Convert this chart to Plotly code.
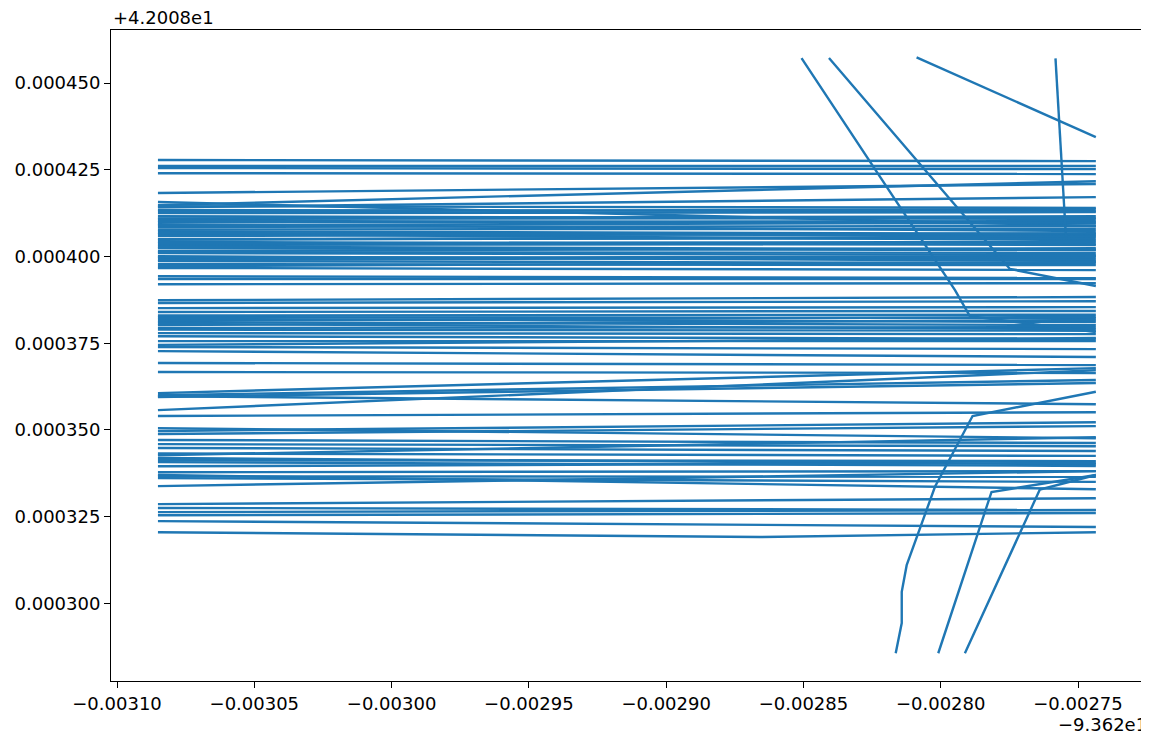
import plotly.graph_objects as go

# Offsets (axis offset notation) and unit (values stored in micro-degrees)
X_OFFSET = -93.62
Y_OFFSET = 42.008
UNIT = 1e-6

# Horizontal-ish segments: common left/right x, per-line left/right y (micro units)
X_LEFT = -3085.1
X_RIGHT = -2743.5
left_y = [427.8, 426.1, 425.5, 424.0, 418.3, 414.8, 415.7, 414.2, 413.4, 412.5,
          411.6, 410.8, 409.9, 409.3, 408.5, 407.3, 406.5, 405.9, 405.0, 404.2,
          403.3, 402.4, 401.6, 401.0, 400.1, 399.5, 398.7, 397.8, 396.7, 394.3,
          393.5, 392.0,
          414.5, 413.0, 411.0, 410.3, 409.0, 407.8, 406.8, 404.8, 403.8, 402.8,
          401.3, 399.8, 399.0, 397.2,
          387.4, 386.6, 385.1, 384.0, 382.5, 382.0, 381.1, 380.2, 379.4, 377.9,
          377.0, 375.6, 374.5, 373.9, 372.7, 369.3, 366.7, 360.6, 355.7, 360.0,
          359.5, 359.7, 383.0, 381.5, 380.6, 378.9,
          354.0, 350.5, 349.7, 348.8, 347.1, 345.9, 344.8, 342.7, 341.9, 340.7,
          337.8, 337.0, 336.1, 333.8, 328.6, 327.5, 326.3, 325.4, 323.7,
          343.2, 341.3, 339.5, 336.6]
right_y = [427.5, 426.1, 425.2, 423.8, 420.9, 421.7, 408.8, 417.1, 413.1, 412.8,
           410.8, 411.1, 410.2, 407.3, 408.8, 406.5, 404.7, 406.7, 405.3, 403.3,
           403.6, 401.8, 402.4, 400.4, 398.7, 400.1, 398.1, 397.5, 396.1, 393.8,
           393.5, 392.3,
           414.0, 413.6, 411.6, 409.5, 409.8, 408.0, 406.0, 405.8, 404.2, 402.0,
           401.0, 399.2, 399.8, 398.4,
           388.3, 387.1, 385.4, 384.3, 382.2, 381.1, 380.2, 381.7, 379.6, 377.6,
           376.2, 375.6, 376.5, 373.3, 371.0, 368.7, 366.4, 367.8, 367.2, 364.4,
           363.5, 357.4, 383.2, 382.6, 379.0, 378.6,
           355.1, 347.6, 352.2, 351.1, 346.2, 345.3, 343.9, 347.9, 340.1, 339.6,
           338.1, 332.9, 335.0, 338.1, 330.3, 326.9, 326.9, 326.0, 322.0,
           342.5, 341.0, 340.5, 336.5]

# Multi-vertex lines
bottom_x = [-3085.1, -2865.8, -2743.5]
bottom_y = [320.5, 319.1, 320.5]
s1_x = [-2850.7, -2794.8, -2789.4, -2743.5]
s1_y = [457.2, 390.3, 382.8, 378.2]
s2_x = [-2840.7, -2774.8, -2743.5]
s2_y = [457.2, 396.4, 391.5]
s3_x = [-2808.8, -2743.5]
s3_y = [457.4, 434.4]
s4_x = [-2758.2, -2754.4]
s4_y = [457.1, 405.7]
s5_x = [-2816.4, -2814.2, -2814.2, -2812.4, -2802.1, -2788.4, -2743.5]
s5_y = [285.6, 294.3, 303.3, 311.0, 333.6, 354.0, 361.0]
s6_x = [-2800.9, -2781.5, -2743.5]
s6_y = [285.6, 332.1, 337.0]
s7_x = [-2791.2, -2763.9, -2743.5]
s7_y = [285.6, 332.8, 337.0]

x_ticks = [-3100, -3050, -3000, -2950, -2900, -2850, -2800, -2750]
x_tick_text = ["\u22120.00310", "\u22120.00305", "\u22120.00300", "\u22120.00295",
               "\u22120.00290", "\u22120.00285", "\u22120.00280", "\u22120.00275"]
y_ticks = [300, 325, 350, 375, 400, 425, 450]
y_tick_text = ["0.000300", "0.000325", "0.000350", "0.000375", "0.000400",
               "0.000425", "0.000450"]

def rx(v):
    return X_OFFSET + v * UNIT

def ry(v):
    return Y_OFFSET + v * UNIT

xs, ys = [], []
for ly, ryv in zip(left_y, right_y):
    xs += [rx(X_LEFT), rx(X_RIGHT), None]
    ys += [ry(ly), ry(ryv), None]
for lx, lyy in [(bottom_x, bottom_y), (s1_x, s1_y), (s2_x, s2_y), (s3_x, s3_y),
                (s4_x, s4_y), (s5_x, s5_y), (s6_x, s6_y), (s7_x, s7_y)]:
    xs += [rx(v) for v in lx] + [None]
    ys += [ry(v) for v in lyy] + [None]

fig = go.Figure()
fig.add_trace(go.Scatter(x=xs, y=ys, mode="lines",
                         line=dict(color="#1f77b4", width=2.4),
                         connectgaps=False, showlegend=False, hoverinfo="skip"))

font = dict(family="DejaVu Sans", size=18, color="black")
# page body has an 8px margin, so the figure is sized to fit inside the window
fig.update_layout(
    width=1141, height=732,
    margin=dict(l=103, r=4, t=22, b=59, autoexpand=False),
    plot_bgcolor="white", paper_bgcolor="white",
    font=font, showlegend=False,
)
fig.update_xaxes(
    range=[rx(-3102.2), rx(-2725.6)],
    tickvals=[rx(v) for v in x_ticks], ticktext=x_tick_text,
    showgrid=False, zeroline=False, showline=True, linecolor="black",
    linewidth=1, mirror=True, ticks="outside", ticklen=6, tickcolor="black",
    tickfont=font, automargin=False,
)
fig.update_yaxes(
    range=[ry(277.6), ry(465.3)],
    tickvals=[ry(v) for v in y_ticks], ticktext=y_tick_text,
    showgrid=False, zeroline=False, showline=True, linecolor="black",
    linewidth=1, mirror=True, ticks="outside", ticklen=6, tickcolor="black",
    tickfont=font, automargin=False,
)
fig.add_annotation(text="+4.2008e1", xref="paper", yref="paper", x=0, y=1,
                   xanchor="left", yanchor="bottom", showarrow=False, yshift=0,
                   font=font)
fig.add_annotation(text="\u22129.362e1", xref="paper", yref="paper", x=1, y=0,
                   xanchor="right", yanchor="top", showarrow=False, yshift=-31,
                   xshift=4, font=font)

fig.write_html("out.html")
